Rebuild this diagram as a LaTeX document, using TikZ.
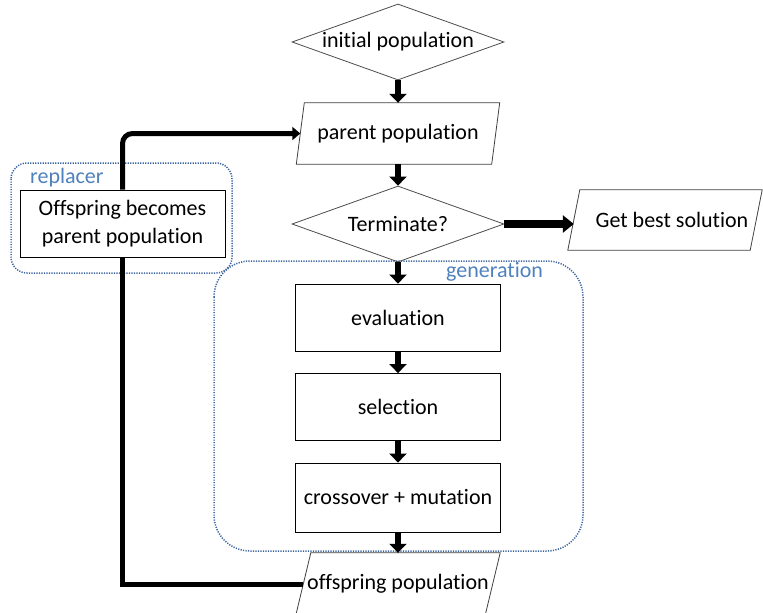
\documentclass[tikz,border=0pt]{standalone}
\usepackage{fontspec}
\setmainfont{Carlito}[Ligatures={NoCommon}]
\usetikzlibrary{arrows.meta,shapes.geometric}
\definecolor{grpblue}{RGB}{79,129,189}
\definecolor{grpdot}{RGB}{60,100,160}
\newcommand{\drawpara}[2]{\draw[line width=0.8pt, draw=black!75] ([xshift=#2]#1.north west) -- (#1.north east) -- ([xshift=-#2]#1.south east) -- (#1.south west) -- cycle;}
\begin{document}
\begin{tikzpicture}[x=1pt,y=-1pt, font=\fontsize{22}{26}\selectfont,
  dec/.style={diamond, draw=black!70, line width=0.8pt, inner sep=0pt, minimum width=212pt, minimum height=76pt, aspect=2.8},
  proc/.style={rectangle, draw=black, line width=0.8pt, minimum width=205pt, minimum height=67pt, inner sep=0pt, fill=white},
  iobox/.style={rectangle, inner sep=0pt},
  group/.style={draw=grpdot, line width=1.5pt, dash pattern=on 1.2pt off 1.3pt},
  grplabel/.style={text=grpblue, anchor=west, inner sep=0pt},
  blk/.style={line width=6.5pt, -{Triangle[width=17pt,length=9pt]}},
  wide/.style={line width=8pt, -{Triangle[width=17pt,length=11pt]}},
  fb/.style={line width=5pt}
]
\useasboundingbox (0,0) rectangle (763,613);
% groups
\draw[group, rounded corners=16pt] (11,163) rectangle (232,273);
\draw[group, rounded corners=36pt] (214,261) rectangle (583,551);
\node[grplabel] (lrepl) at (30,178) {replacer};
\node[grplabel] (lgen) at (446,272) {generation};
% nodes
\node[dec] (init) at (398,42) {\raisebox{-2pt}{initial population}};
\node[iobox, minimum width=203pt, minimum height=61pt] (parent) at (398,133.5) {\raisebox{-2pt}{parent population}};
\node[dec] (term) at (398,224) {\raisebox{-2pt}{Terminate?}};
\node[iobox, minimum width=194pt, minimum height=60pt] (best) at (665,220) {\hspace*{14pt}Get best solution};
\node[proc] (eval) at (398,317.5) {\raisebox{-2pt}{evaluation}};
\node[proc] (sel) at (398,407) {\raisebox{-2pt}{selection}};
\node[proc, minimum height=69pt] (cross) at (398,497.5) {\raisebox{-2pt}{crossover + mutation}};
\node[iobox, minimum width=204pt, minimum height=62pt] (off) at (398,584) {\raisebox{-1pt}{offspring population}};
\node[proc, minimum height=67pt, align=center, font=\fontsize{22}{28}\selectfont] (repl) at (122.5,223.5) {Offspring becomes\\parent population};
\drawpara{parent}{8pt}
\drawpara{best}{12pt}
\drawpara{off}{15pt}
% connectors
\draw[blk] (init.south) -- (parent.north);
\draw[blk] (parent.south) -- (term.north);
\draw[blk] (term.south) -- (eval.north);
\draw[blk] (eval.south) -- (sel.north);
\draw[blk] (sel.south) -- (cross.north);
\draw[blk] (cross.south) -- (off.north);
\draw[wide] (term.east) -- ([xshift=6pt]term.east -| best.west);
\draw[fb] ([xshift=7.5pt]off.west) -| (repl.south);
\draw[fb, rounded corners=10pt, -{Triangle[width=13pt,length=8pt]}] (repl.north) |- ([xshift=4pt]parent.west);
\end{tikzpicture}
\end{document}
